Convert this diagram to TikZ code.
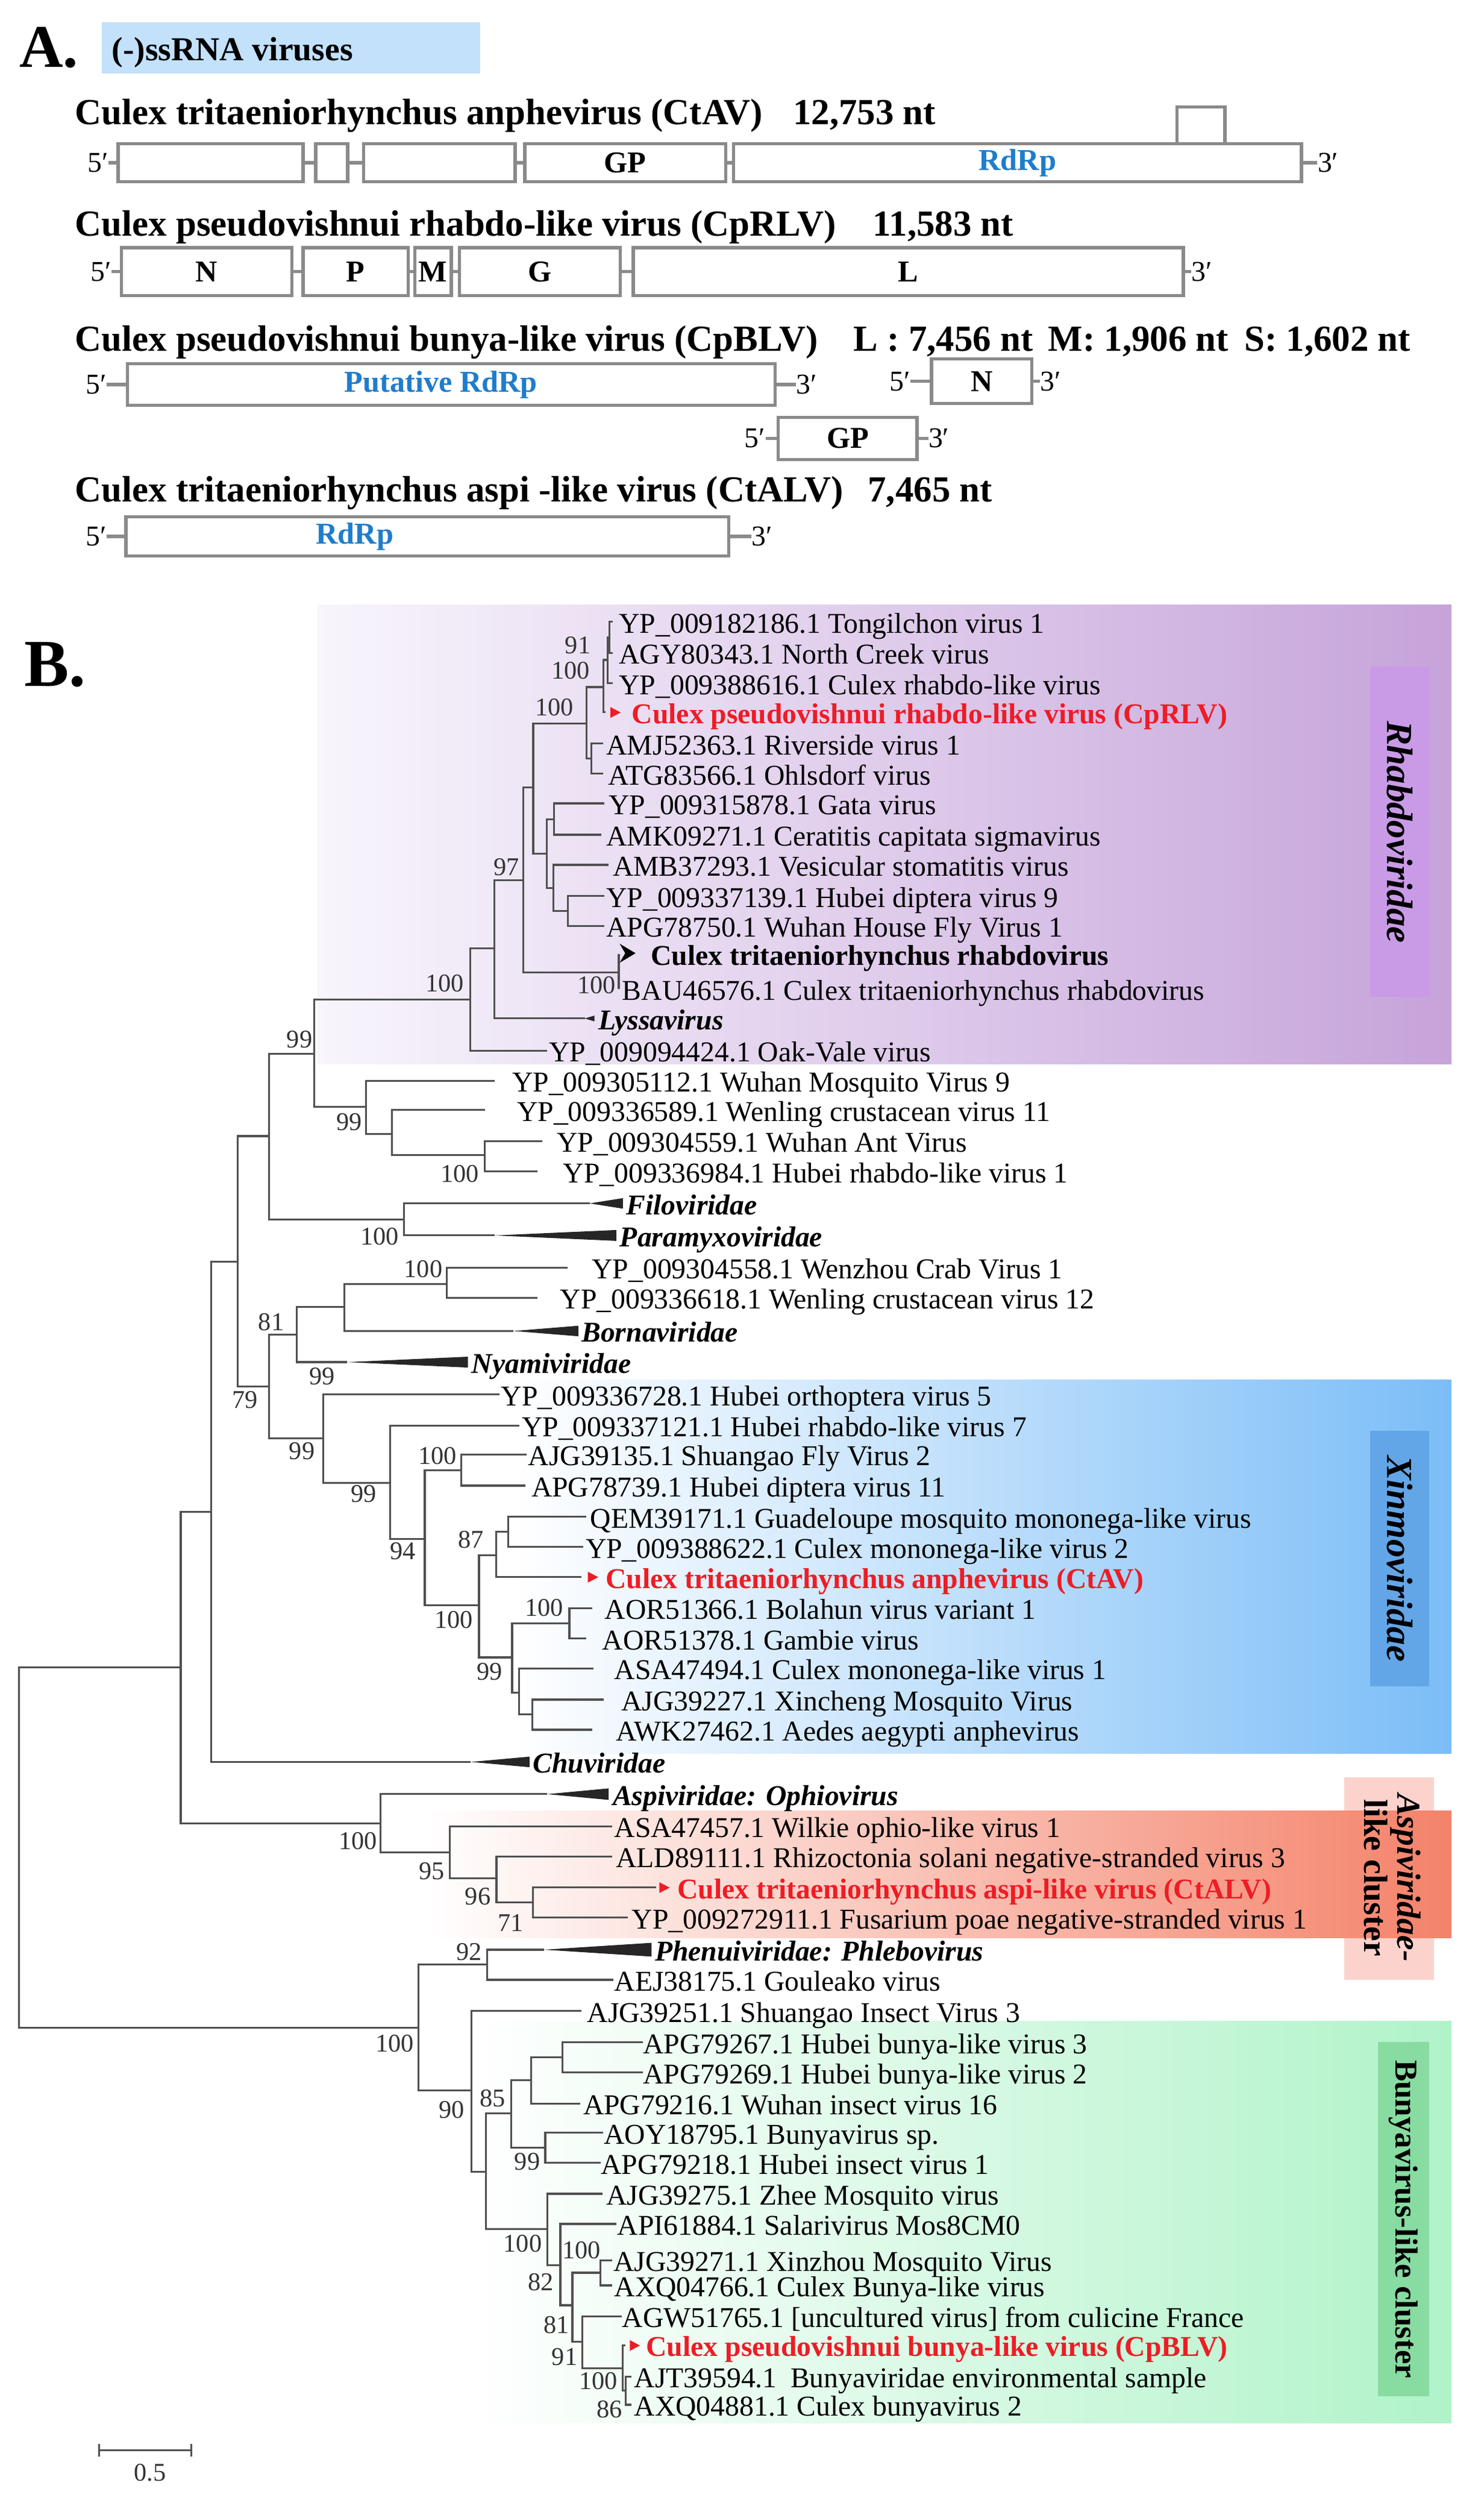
\documentclass[tikz,border=0pt]{standalone}
\usepackage{fontspec}
\setmainfont{Liberation Serif}
\newcommand\fsz[1]{\fontsize{#1}{#1}\selectfont}
\definecolor{treec}{HTML}{505050}
\definecolor{gboxc}{HTML}{8A8A8A}
\definecolor{bluet}{HTML}{1E7DCD}
\definecolor{redv}{HTML}{EE1C25}
\definecolor{ssbox}{HTML}{C3E1FA}
\definecolor{rhR}{HTML}{C6A3DA}
\definecolor{rhL}{HTML}{F8F5FC}
\definecolor{rhBox}{HTML}{C99BE7}
\definecolor{xnR}{HTML}{7BBDF7}
\definecolor{xnBox}{HTML}{63A6E7}
\definecolor{asR}{HTML}{F4826A}
\definecolor{asBox}{HTML}{FCD3CC}
\definecolor{buR}{HTML}{B0F3C9}
\definecolor{buBox}{HTML}{88DBA1}
\begin{document}
\begin{tikzpicture}[x=1pt,y=-1pt,
  br/.style={draw=treec, line width=1.2pt},
  lab/.style={anchor=base west, yshift=-7pt, inner sep=0pt, font=\fsz{18}},
  blab/.style={lab, font=\fsz{18}\bfseries},
  rlab/.style={lab, font=\fsz{18}\bfseries, text=redv},
  clab/.style={lab, font=\fsz{18}\bfseries\itshape},
  bs/.style={inner sep=0pt, font=\fsz{16}, text=black!80},
  gbox/.style={draw=gboxc, line width=2pt, fill=white, inner sep=0pt},
  gl/.style={draw=gboxc, line width=2pt},
  gt/.style={font=\fsz{19}\bfseries, inner sep=0pt},
  pr/.style={font=\fsz{18}, inner sep=0pt},
  ttl/.style={font=\fsz{23}\bfseries, anchor=base west, inner sep=0pt}]
\fill[white] (0,0) rectangle (930.1,1572.7);
\useasboundingbox (0,0) rectangle (930.1,1572.7);

% ---------------- Part A ----------------
\node[font=\fsz{38}\bfseries, anchor=base west, inner sep=0pt] (lblA) at (12,42) {A.};
\node[fill=ssbox, minimum width=237pt, minimum height=32pt, inner sep=0pt] (ssb) at (182.5,30) {};
\node[font=\fsz{21}\bfseries, anchor=base west, inner sep=0pt] (sst) at (70,38) {(-)ssRNA viruses};

\node[ttl] (h1) at (47,78) {Culex tritaeniorhynchus anphevirus (CtAV)};
\node[ttl] (h1n) at (497,78) {12,753 nt};
\node[ttl] (h2) at (47,148) {Culex pseudovishnui rhabdo-like virus (CpRLV)};
\node[ttl] (h2n) at (547,148) {11,583 nt};
\node[ttl] (h3) at (47,220) {Culex pseudovishnui bunya-like virus (CpBLV)};
\node[ttl] (h3a) at (535,220) {L : 7,456 nt};
\node[ttl] (h3b) at (657,220) {M: 1,906 nt};
\node[ttl] (h3c) at (780,220) {S: 1,602 nt};
\node[ttl] (h4) at (47,314.5) {Culex tritaeniorhynchus aspi -like virus (CtALV)};
\node[ttl] (h4n) at (544,314.5) {7,465 nt};

% row 1
\node[gbox, minimum width=116pt, minimum height=24pt] (A1) at (132,102) {};
\node[gbox, minimum width=20pt, minimum height=24pt] (A2) at (208,102) {};
\node[gbox, minimum width=95pt, minimum height=24pt] (A3) at (275.5,102) {};
\node[gbox, gt, minimum width=126pt, minimum height=24pt] (A4) at (392,102) {GP};
\node[gbox, gt, text=bluet, minimum width=356pt, minimum height=24pt] (A5) at (638,102) {RdRp};
\node[gbox, minimum width=30pt, minimum height=23pt] (A6) at (753,78.5) {};
\node[pr, anchor=east] (fA) at (68,102) {5′};
\node[pr, anchor=west] (tA) at (826,102) {3′};
\draw[gl] (fA.east) -- (A1.west) (A1.east) -- (A2.west) (A2.east) -- (A3.west)
  (A3.east) -- (A4.west) (A4.east) -- (A5.west) (A5.east) -- (tA.west);

% row 2
\node[gbox, gt, minimum width=107pt, minimum height=30pt] (B1) at (129.5,170.25) {N};
\node[gbox, gt, minimum width=66pt, minimum height=30pt] (B2) at (223,170.25) {P};
\node[gbox, gt, minimum width=23pt, minimum height=30pt] (B3) at (271.5,170.25) {M};
\node[gbox, gt, minimum width=101pt, minimum height=30pt] (B4) at (338.5,170.25) {G};
\node[gbox, gt, minimum width=345pt, minimum height=30pt] (B5) at (569.5,170.25) {L};
\node[pr, anchor=east] (fB) at (70,170.25) {5′};
\node[pr, anchor=west] (tB) at (747,170.25) {3′};
\draw[gl] (fB.east) -- (B1.west) (B1.east) -- (B2.west) (B2.east) -- (B3.west)
  (B3.east) -- (B4.west) (B4.east) -- (B5.west) (B5.east) -- (tB.west);

% row 3
\node[gbox, minimum width=406pt, minimum height=26pt] (C1) at (283,241) {};
\node[gt, text=bluet] (C1t) at (276.5,241) {Putative RdRp};
\node[pr, anchor=east] (fC1) at (67,241) {5′};
\node[pr, anchor=west] (tC1) at (499,241) {3′};
\draw[gl] (fC1.east) -- (C1.west) (C1.east) -- (tC1.west);
\node[gbox, gt, minimum width=63pt, minimum height=28pt] (C2) at (615.5,239) {N};
\node[pr, anchor=east] (fC2) at (571,239) {5′};
\node[pr, anchor=west] (tC2) at (652,239) {3′};
\draw[gl] (fC2.east) -- (C2.west) (C2.east) -- (tC2.west);
\node[gbox, gt, minimum width=87pt, minimum height=26.4pt] (C3) at (531.5,274.8) {GP};
\node[pr, anchor=east] (fC3) at (480,274.8) {5′};
\node[pr, anchor=west] (tC3) at (582,274.8) {3′};
\draw[gl] (fC3.east) -- (C3.west) (C3.east) -- (tC3.west);

% row 4
\node[gbox, minimum width=378pt, minimum height=24.4pt] (D1) at (268,336.2) {};
\node[gt, text=bluet] (D1t) at (222.4,336.2) {RdRp};
\node[pr, anchor=east] (fD) at (67,336.2) {5′};
\node[pr, anchor=west] (tD) at (471,336.2) {3′};
\draw[gl] (fD.east) -- (D1.west) (D1.east) -- (tD.west);

% ---------------- Part B ----------------
\node[font=\fsz{42}\bfseries, anchor=base west, inner sep=0pt] (lblB) at (15,430) {B.};

% backgrounds
\shade[left color=rhL, right color=rhR] (199,379) rectangle (910,667);
\fill[rhBox] (859,418) rectangle (896,625);
\shade[left color=white, middle color=xnR!45, right color=xnR] (322,865) rectangle (910,1099);
\fill[xnBox] (859,897) rectangle (896,1057);
\fill[asBox] (843,1114) rectangle (899,1241);
\shade[left color=white, right color=asR] (268,1135) rectangle (910,1214.6);
\shade[left color=white, right color=buR] (295,1267) rectangle (910,1519);
\fill[buBox] (864,1280) rectangle (896,1502);

% leaves
\coordinate (L1) at (384.1,389.7);
\coordinate (L2) at (384.1,409.3);
\coordinate (L3) at (384.1,428.2);
\coordinate (L4) at (379.7,446.4);
\coordinate (L5) at (378,466);
\coordinate (L6) at (378,484.9);
\coordinate (L7) at (379,503.6);
\coordinate (L8) at (377,523.2);
\coordinate (L9) at (381.6,542.1);
\coordinate (L10) at (379,561.6);
\coordinate (L11) at (379,580.3);
\coordinate (L12) at (388,598);
\coordinate (L13) at (388,620);
\coordinate (L14) at (366.7,638.4);
\coordinate (L15) at (343,658.6);
\coordinate (L16) at (310,677.5);
\coordinate (L17) at (304,695.7);
\coordinate (L18) at (340,715.3);
\coordinate (L19) at (337,734.2);
\coordinate (L20) at (369.7,754.3);
\coordinate (L21) at (310,774.4);
\coordinate (L22) at (356,794.6);
\coordinate (L23) at (337,813.5);
\coordinate (L24) at (322,834.3);
\coordinate (L25) at (217.6,853.8);
\coordinate (L26) at (313,874);
\coordinate (L27) at (325.5,893.5);
\coordinate (L28) at (330,911.7);
\coordinate (L29) at (329.5,931.2);
\coordinate (L30) at (367.7,950.8);
\coordinate (L31) at (365.8,969.7);
\coordinate (L32) at (364.6,988.5);
\coordinate (L33) at (371.4,1008);
\coordinate (L34) at (367.7,1027);
\coordinate (L35) at (372.1,1045.8);
\coordinate (L36) at (378.4,1065.3);
\coordinate (L37) at (371.4,1084.2);
\coordinate (L38) at (295.2,1104.4);
\coordinate (L39) at (343,1124.6);
\coordinate (L40) at (384,1144.7);
\coordinate (L41) at (384,1163.6);
\coordinate (L42) at (411.4,1183.1);
\coordinate (L43) at (393.6,1202);
\coordinate (L44) at (341,1222.1);
\coordinate (L45) at (384.5,1241);
\coordinate (L46) at (364.6,1260.6);
\coordinate (L47) at (403,1280.1);
\coordinate (L48) at (403,1299);
\coordinate (L49) at (363.9,1318.5);
\coordinate (L50) at (378,1336.9);
\coordinate (L51) at (376.5,1355.8);
\coordinate (L52) at (377.8,1375.1);
\coordinate (L53) at (386.6,1394);
\coordinate (L54) at (384,1416.7);
\coordinate (L55) at (384,1432.5);
\coordinate (L56) at (389.8,1451.9);
\coordinate (L57) at (392,1470.1);
\coordinate (L58) at (396,1489.7);
\coordinate (L59) at (396,1507.3);

% internal nodes
\coordinate (n91) at (382.2,399.5);
\coordinate (n100a) at (380.9,413.7);
\coordinate (n100b) at (378.4,430.7);
\coordinate (nAMJ) at (370.9,475.4);
\coordinate (n100c) at (367.7,453.4);
\coordinate (nGC) at (347.5,513.7);
\coordinate (nH9) at (356,571);
\coordinate (nVH) at (347,556.5);
\coordinate (nGVH) at (342.9,535);
\coordinate (n100) at (334.3,493.6);
\coordinate (nCtR) at (388,609.5);
\coordinate (n97) at (328,551.6);
\coordinate (nX) at (310,594.4);
\coordinate (nY) at (295,626.5);
\coordinate (nU) at (304,724.1);
\coordinate (nV) at (245.7,710.9);
\coordinate (nW) at (229.6,693.9);
\coordinate (nZ) at (197,660.5);
\coordinate (nS) at (253.4,764.4);
\coordinate (nT) at (168.8,712.1);
\coordinate (nWz) at (280,804.7);
\coordinate (nBo) at (215.9,819.2);
\coordinate (n81) at (186,836.5);
\coordinate (nSh) at (289.2,921.5);
\coordinate (n87a) at (318.6,960.2);
\coordinate (n87) at (311,974.7);
\coordinate (nBG) at (357,1017.5);
\coordinate (nAJ) at (333.7,1074.7);
\coordinate (nAS) at (325.5,1061);
\coordinate (n99x) at (321.1,1038.9);
\coordinate (n100x) at (300.3,1006.2);
\coordinate (n94) at (266.3,964.6);
\coordinate (n99b) at (244.5,929.4);
\coordinate (n99a) at (202.7,901.7);
\coordinate (n79) at (168.8,869);
\coordinate (nR) at (149,790.8);
\coordinate (nQ) at (132.4,947.5);
\coordinate (n71) at (334,1192.6);
\coordinate (n96) at (311.3,1177.4);
\coordinate (n95) at (282,1161.1);
\coordinate (nOph) at (238.5,1143);
\coordinate (nP) at (113.3,1045.2);
\coordinate (n92) at (305.3,1231.5);
\coordinate (n352) at (352.6,1289.5);
\coordinate (n333) at (333.1,1304);
\coordinate (n99c) at (341.9,1346.3);
\coordinate (n85) at (320.5,1324.8);
\coordinate (n86) at (392.3,1498.5);
\coordinate (nCpB) at (390.4,1484.6);
\coordinate (n91b) at (365.2,1467.7);
\coordinate (nAX) at (376.5,1424.6);
\coordinate (n81b) at (358.9,1445);
\coordinate (n82) at (351.3,1419.8);
\coordinate (n100y) at (343.1,1397.2);
\coordinate (n304) at (304.8,1361.3);
\coordinate (n90) at (295.5,1310.3);
\coordinate (n100z) at (262.4,1271);
\coordinate (root) at (12,1158);

\foreach \a/\b in {n91/L1, n91/L2, n100a/n91, n100a/L3, n100b/n100a, n100b/L4,
  nAMJ/L5, nAMJ/L6, n100c/n100b, n100c/nAMJ, nGC/L7, nGC/L8, nH9/L10, nH9/L11,
  nVH/L9, nVH/nH9, nGVH/nGC, nGVH/nVH, n100/n100c, n100/nGVH, nCtR/L12, nCtR/L13,
  n97/n100, n97/nCtR, nX/n97, nX/L14, nY/nX, nY/L15, nU/L18, nU/L19, nV/L17, nV/nU,
  nW/L16, nW/nV, nZ/nY, nZ/nW, nS/L20, nS/L21, nT/nZ, nT/nS, nWz/L22, nWz/L23,
  nBo/nWz, nBo/L24, n81/nBo, n81/L25, nSh/L28, nSh/L29, n87a/L30, n87a/L31,
  n87/n87a, n87/L32, nBG/L33, nBG/L34, nAJ/L36, nAJ/L37, nAS/L35, nAS/nAJ,
  n99x/nBG, n99x/nAS, n100x/n87, n100x/n99x, n94/nSh, n94/n100x, n99b/L27, n99b/n94,
  n99a/L26, n99a/n99b, n79/n81, n79/n99a, nR/nT, nR/n79, nQ/nR, nQ/L38,
  n71/L42, n71/L43, n96/L41, n96/n71, n95/L40, n95/n96, nOph/L39, nOph/n95,
  nP/nQ, nP/nOph, n92/L44, n92/L45, n352/L47, n352/L48, n333/n352, n333/L49,
  n99c/L50, n99c/L51, n85/n333, n85/n99c, n86/L58, n86/L59, nCpB/L57, nCpB/n86,
  n91b/L56, n91b/nCpB, nAX/L54, nAX/L55, n81b/nAX, n81b/n91b, n82/L53, n82/n81b,
  n100y/L52, n100y/n82, n304/n85, n304/n100y, n90/L46, n90/n304, n100z/n92, n100z/n90,
  root/nP, root/n100z}
  \draw[br] (\a) |- (\b);

% collapsed clades
\fill[black!85] (L14) -- ++(6,-1.8) -- ++(0,3.6) -- cycle;
\fill[black!85] (L20) -- ++(20.9,-3.3) -- ++(0,6.6) -- cycle;
\fill[black!85] (L21) -- ++(76.4,-3.4) -- ++(0,6.8) -- cycle;
\fill[black!85] (L24) -- ++(40.6,-3.3) -- ++(0,6.6) -- cycle;
\fill[black!85] (L25) -- ++(75.8,-3.4) -- ++(0,6.8) -- cycle;
\fill[black!85] (L38) -- ++(36.8,-3.3) -- ++(0,6.6) -- cycle;
\fill[black!85] (L39) -- ++(38.6,-3.6) -- ++(0,7.2) -- cycle;
\fill[black!85] (L44) -- ++(67.5,-4.3) -- ++(0,8.6) -- cycle;

\node[clab] (cl1) at (375,638.4) {Lyssavirus};
\node[clab] (cl2) at (392.5,754.3) {Filoviridae};
\node[clab] (cl3) at (388.5,774.4) {Paramyxoviridae};
\node[clab] (cl4) at (364.5,834.3) {Bornaviridae};
\node[clab] (cl5) at (295.5,853.8) {Nyamiviridae};
\node[clab] (cl6) at (334,1104.4) {Chuviridae};
\node[clab] (cl7) at (384,1124.6) {Aspiviridae: Ophiovirus};
\node[clab] (cl8) at (410.5,1222.1) {Phenuiviridae: Phlebovirus};

% arrows for highlighted taxa
\fill[redv] (382.7,443.2) -- (389.2,446.6) -- (382.7,450) -- cycle;
\fill[redv] (368.6,985.2) -- (375.1,988.6) -- (368.6,992) -- cycle;
\fill[redv] (413.4,1179.8) -- (419.9,1183.2) -- (413.4,1186.6) -- cycle;
\fill[redv] (394.9,1466.8) -- (401.2,1470.2) -- (394.9,1473.6) -- cycle;
\fill[black] (388.5,591.5) -- (398.5,597.5) -- (388.5,603.5) -- (392,597.5) -- cycle;

% leaf labels
\foreach \x/\y/\t [count=\i] in {
  388/389.7/YP\_009182186.1 Tongilchon virus 1,
  388/409.3/AGY80343.1 North Creek virus,
  388/428.2/YP\_009388616.1 Culex rhabdo-like virus,
  380/466/AMJ52363.1 Riverside virus 1,
  381/484.9/ATG83566.1 Ohlsdorf virus,
  381.5/503.6/YP\_009315878.1 Gata virus,
  380/523.2/AMK09271.1 Ceratitis capitata sigmavirus,
  384/542.1/AMB37293.1 Vesicular stomatitis virus,
  380/561.6/YP\_009337139.1 Hubei diptera virus 9,
  380/580.3/APG78750.1 Wuhan House Fly Virus 1,
  390/620/BAU46576.1 Culex tritaeniorhynchus rhabdovirus,
  344/658.6/YP\_009094424.1 Oak-Vale virus,
  321/677.5/YP\_009305112.1 Wuhan Mosquito Virus 9,
  324/695.7/YP\_009336589.1 Wenling crustacean virus 11,
  349/715.3/YP\_009304559.1 Wuhan Ant Virus,
  353/734.2/YP\_009336984.1 Hubei rhabdo-like virus 1,
  371/794.6/YP\_009304558.1 Wenzhou Crab Virus 1,
  351/813.5/YP\_009336618.1 Wenling crustacean virus 12,
  314/874/YP\_009336728.1 Hubei orthoptera virus 5,
  327/893.5/YP\_009337121.1 Hubei rhabdo-like virus 7,
  331/911.7/AJG39135.1 Shuangao Fly Virus 2,
  333/931.2/APG78739.1 Hubei diptera virus 11,
  370/950.8/QEM39171.1 Guadeloupe mosquito mononega-like virus,
  367/969.7/YP\_009388622.1 Culex mononega-like virus 2,
  379/1008/AOR51366.1 Bolahun virus variant 1,
  377.5/1027/AOR51378.1 Gambie virus,
  385/1045.8/ASA47494.1 Culex mononega-like virus 1,
  389.5/1065.3/AJG39227.1 Xincheng Mosquito Virus,
  386/1084.2/AWK27462.1 Aedes aegypti anphevirus,
  385/1144.7/ASA47457.1 Wilkie ophio-like virus 1,
  386/1163.6/ALD89111.1 Rhizoctonia solani negative-stranded virus 3,
  396/1202/YP\_009272911.1 Fusarium poae negative-stranded virus 1,
  385/1241/AEJ38175.1 Gouleako virus,
  368/1260.6/AJG39251.1 Shuangao Insect Virus 3,
  403/1280.1/APG79267.1 Hubei bunya-like virus 3,
  403/1299/APG79269.1 Hubei bunya-like virus 2,
  365.5/1318.5/APG79216.1 Wuhan insect virus 16,
  378.5/1336.9/AOY18795.1 Bunyavirus sp.,
  376.5/1355.8/APG79218.1 Hubei insect virus 1,
  380/1375.1/AJG39275.1 Zhee Mosquito virus,
  387/1394/API61884.1 Salarivirus Mos8CM0,
  384.5/1416.7/AJG39271.1 Xinzhou Mosquito Virus,
  385/1432.5/AXQ04766.1 Culex Bunya-like virus,
  397.5/1507.3/AXQ04881.1 Culex bunyavirus 2}
  \node[lab] (t\i) at (\x,\y) {\t};
\node[lab] (tAGW) at (390,1451.9) {AGW51765.1 [uncultured virus] from culicine France};
\node[lab] (tAJT) at (397.5,1489.7) {AJT39594.1\hspace{4pt} Bunyaviridae environmental sample};
\node[blab] (tCtR) at (408,598) {Culex tritaeniorhynchus rhabdovirus};
\node[rlab] (rd1) at (396,446.4) {Culex pseudovishnui rhabdo-like virus (CpRLV)};
\node[rlab] (rd2) at (379.6,988.5) {Culex tritaeniorhynchus anphevirus (CtAV)};
\node[rlab] (rd3) at (424.6,1183.1) {Culex tritaeniorhynchus aspi-like virus (CtALV)};
\node[rlab] (rd4) at (405,1470.1) {Culex pseudovishnui bunya-like virus (CpBLV)};

% bootstrap values
\foreach \x/\y/\t [count=\i] in {
  362.3/404.3/91, 357.9/420.2/100, 347.6/443.5/100, 317.5/543.4/97, 374/617.7/100,
  278.8/616.4/100, 187.8/651.7/99, 219/703.3/99, 288.3/735.8/100, 238/775.1/100,
  265.4/795.3/100, 170/828.6/81, 201.9/862.6/99, 153.6/877.4/79, 189.3/909.5/99,
  274.3/912.7/100, 228/936.3/99, 252.5/972.2/94, 295.4/964.9/87, 284.5/1015.5/100,
  341.1/1007.6/100, 306.9/1047.9/99, 224.5/1154.1/100, 270.7/1173/95, 299.6/1188.8/96,
  320.2/1205.2/71, 294/1223.4/92, 247.5/1281/100, 283.3/1322.3/90, 308.8/1315.3/85,
  330.6/1355/99, 327.7/1406.3/100, 364.6/1410.4/100, 339.1/1430.5/82, 349/1457.5/81,
  354/1477.5/91, 375.1/1492.5/100, 382.2/1510.2/86}
  \node[bs] (bs\i) at (\x,\y) {\t};

% clade labels
\node[rotate=-90, font=\fsz{23}\bfseries\itshape, inner sep=0pt] (grpR) at (877.5,521.5) {Rhabdoviridae};
\node[rotate=-90, font=\fsz{23}\bfseries\itshape, inner sep=0pt] (grpX) at (877.5,977) {Xinmoviridae};
\node[rotate=-90, font=\fsz{21}\bfseries, align=center, inner sep=0pt] (grpA) at (873,1177) {\textit{Aspiviridae-}\\like cluster};
\node[rotate=-90, font=\fsz{20}\bfseries, inner sep=0pt] (grpB) at (880,1391) {Bunyavirus-like cluster};

% scale bar
\coordinate (sb1) at (62,1536);
\coordinate (sb2) at (120,1536);
\draw[br] (sb1) -- (sb2);
\draw[br] ([yshift=4pt]sb1) -- ([yshift=-4pt]sb1);
\draw[br] ([yshift=4pt]sb2) -- ([yshift=-4pt]sb2);
\node[bs] (sbl) at (94,1550) {0.5};
\end{tikzpicture}
\end{document}
